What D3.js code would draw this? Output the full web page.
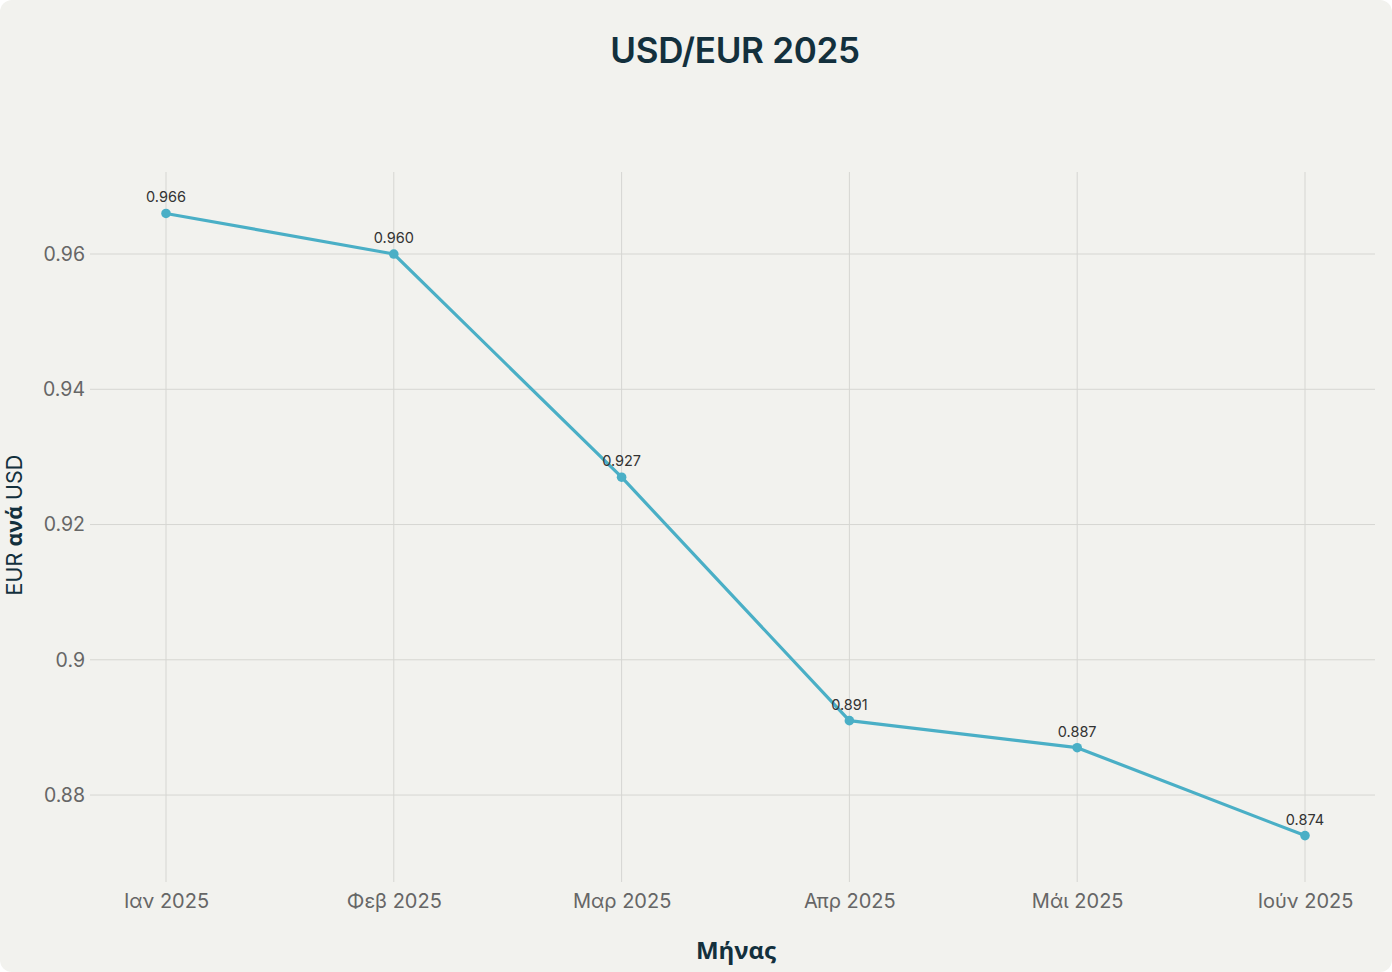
<!DOCTYPE html>
<html><head><meta charset="utf-8">
<script src="https://cdn.jsdelivr.net/npm/d3@7"></script>
<style>html,body{margin:0;padding:0;background:#ffffff;}</style>
</head><body>
<script>
const months = ["Ιαν 2025","Φεβ 2025","Μαρ 2025","Απρ 2025","Μάι 2025","Ιούν 2025"];
const values = [0.966,0.960,0.927,0.891,0.887,0.874];
const valueLabels = ["0.966","0.960","0.927","0.891","0.887","0.874"];
const yTicks = [0.88,0.9,0.92,0.94,0.96];
const yTickLabels = ["0.88","0.9","0.92","0.94","0.96"];

const W=1392,H=972;
const svg=d3.select("body").append("svg").attr("width",W).attr("height",H);
svg.append("rect").attr("x",0).attr("y",0).attr("width",W).attr("height",H).attr("rx",12).attr("fill","#f2f2ee");

const plot={l:90,r:1375,t:172,b:882};
const x=d3.scalePoint().domain(months).range([166,1305]);
const y=d3.scaleLinear().domain([0.86714,0.97213]).range([plot.b,plot.t]);

const font="Inter, 'Liberation Sans', sans-serif";
svg.append("g").selectAll("line").data(yTicks).join("line")
  .attr("x1",plot.l).attr("x2",plot.r).attr("y1",d=>y(d)).attr("y2",d=>y(d))
  .attr("stroke","#d6d6d2").attr("stroke-width",1);
svg.append("g").selectAll("line").data(months).join("line")
  .attr("x1",d=>x(d)).attr("x2",d=>x(d)).attr("y1",plot.t).attr("y2",plot.b)
  .attr("stroke","#d6d6d2").attr("stroke-width",1);

const yAxis=d3.axisLeft(y).tickValues(yTicks).tickFormat((d,i)=>yTickLabels[i]).tickSize(0).tickPadding(5);
const gy=svg.append("g").attr("transform",`translate(${plot.l},0)`).call(yAxis);
gy.select(".domain").remove();
gy.selectAll("text").attr("font-family",font).attr("font-size",19.5).attr("fill","#666");

const xAxis=d3.axisBottom(x).tickSize(0).tickPadding(12);
const gx=svg.append("g").attr("transform",`translate(0,${plot.b})`).call(xAxis);
gx.select(".domain").remove();
gx.selectAll("text").attr("font-family",font).attr("font-size",20).attr("fill","#666");

const color="#4aafc6";
const line=d3.line().x((d,i)=>x(months[i])).y(d=>y(d));
svg.append("path").datum(values).attr("d",line).attr("fill","none").attr("stroke",color).attr("stroke-width",3.2).attr("stroke-linejoin","round");
svg.append("g").selectAll("circle").data(values).join("circle")
  .attr("cx",(d,i)=>x(months[i])).attr("cy",d=>y(d)).attr("r",4.8).attr("fill",color);
svg.append("g").selectAll("text").data(values).join("text")
  .attr("x",(d,i)=>x(months[i])).attr("y",d=>y(d)-11).attr("text-anchor","middle")
  .attr("font-family",font).attr("font-size",14.5).attr("fill","#333")
  .text((d,i)=>valueLabels[i]);

svg.append("text").attr("x",735).attr("y",63).attr("text-anchor","middle")
  .attr("font-family",font).attr("font-size",35).attr("font-weight",600).attr("fill","#13303d")
  .attr("letter-spacing",-0.3).text("USD/EUR 2025");
svg.append("text").attr("x",736).attr("y",959).attr("text-anchor","middle")
  .attr("font-family","'Open Sans', sans-serif").attr("font-size",24).attr("font-weight",700).attr("fill","#13303d").text("Μήνας");
const yt=svg.append("text").attr("transform","translate(22,525) rotate(-90)").attr("text-anchor","middle")
  .attr("font-family",font).attr("font-size",21.5).attr("fill","#13303d");
yt.append("tspan").text("EUR ");
yt.append("tspan").attr("font-weight",700).attr("font-family","'Open Sans', sans-serif").text("ανά");
yt.append("tspan").text(" USD");
</script>
</body></html>
